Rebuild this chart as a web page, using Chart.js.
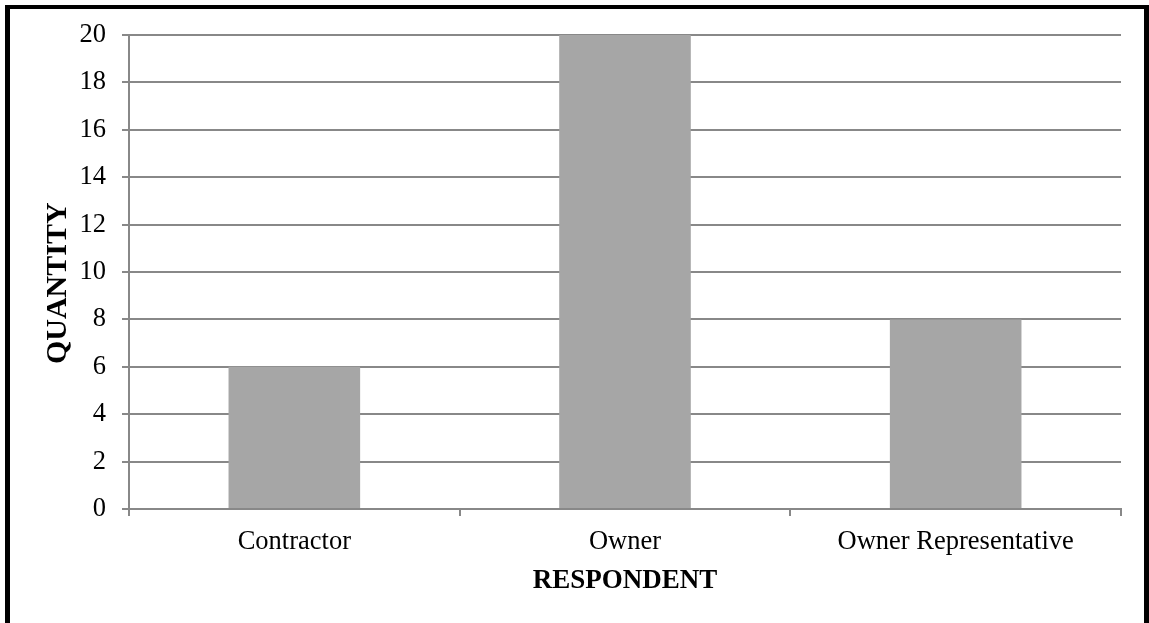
<!DOCTYPE html>
<html>
<head>
<meta charset="utf-8">
<script src="https://cdn.jsdelivr.net/npm/chart.js@4"></script>
<style>
  html, body { margin: 0; padding: 0; background: #fff; }
  #wrap { position: relative; width: 1149px; height: 623px; overflow: hidden; }
  #chart { position: absolute; left: 0; top: 0; }
  #frame {
    position: absolute; left: 5px; top: 5px; width: 1134px; height: 640px;
    border-left: 5px solid #000; border-top: 4px solid #000; border-right: 5px solid #000;
    pointer-events: none;
  }
</style>
</head>
<body>
<div id="wrap">
  <canvas id="chart" width="1149" height="623"></canvas>
  <div id="frame"></div>
</div>
<script>
// Survey respondents by role
const categories = ['Contractor', 'Owner', 'Owner Representative'];
const quantities = [6, 20, 8];
const yTicks = [0, 2, 4, 6, 8, 10, 12, 14, 16, 18, 20];

const axisGray = '#888888';
const serif = "'Liberation Serif', 'Times New Roman', serif";

new Chart(document.getElementById('chart'), {
  type: 'bar',
  data: {
    labels: categories,
    datasets: [{
      data: quantities,
      backgroundColor: '#a6a6a6',
      borderWidth: 0,
      categoryPercentage: 1,
      barPercentage: 0.398
    }]
  },
  options: {
    responsive: false,
    animation: false,
    events: [],
    layout: { padding: { left: 0, top: 35, right: 28, bottom: 0 } },
    plugins: { legend: { display: false }, tooltip: { enabled: false } },
    scales: {
      x: {
        grid: {
          offset: true,
          drawOnChartArea: false,
          drawTicks: true,
          tickLength: 7,
          color: axisGray,
          lineWidth: 2
        },
        border: { color: axisGray, width: 2 },
        ticks: {
          color: '#000',
          padding: 10,
          maxRotation: 0,
          font: { family: serif, size: 26.5 }
        },
        title: {
          display: true,
          text: 'RESPONDENT',
          color: '#000',
          padding: { top: 0, bottom: 26 },
          font: { family: serif, size: 27, weight: 'bold' }
        },
        afterFit: (scale) => { scale.height = 114; }
      },
      y: {
        min: 0,
        max: 20,
        afterBuildTicks: (scale) => { scale.ticks = yTicks.map(v => ({ value: v })); },
        grid: {
          drawTicks: true,
          tickLength: 7,
          color: axisGray,
          lineWidth: 2
        },
        border: { color: axisGray, width: 2 },
        ticks: {
          color: '#000',
          padding: 16,
          font: { family: serif, size: 26.5 }
        },
        title: {
          display: true,
          // trailing spaces nudge the rotated title slightly downward
          text: 'QUANTITY   ',
          color: '#000',
          padding: { top: 40, bottom: 0 },
          font: { family: serif, size: 30, weight: 'bold' }
        },
        afterFit: (scale) => { scale.width = 129; }
      }
    }
  }
});
</script>
</body>
</html>
